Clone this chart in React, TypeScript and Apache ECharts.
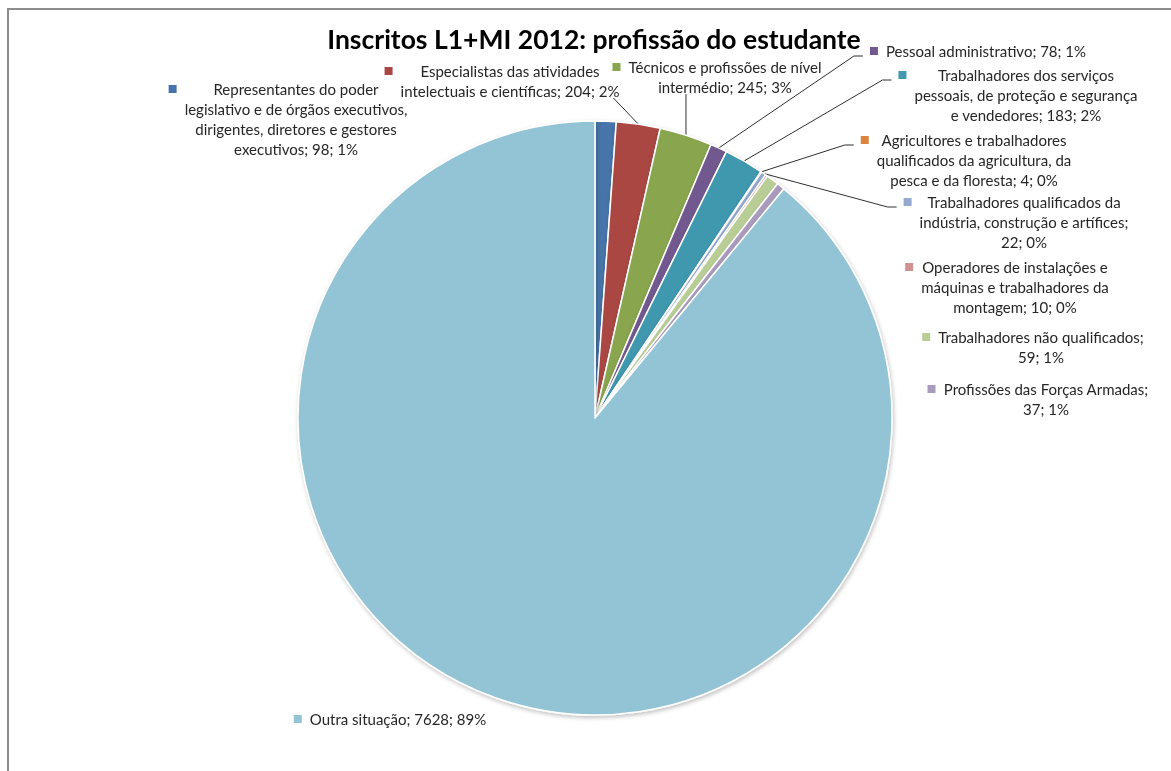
import React, { useEffect, useRef } from 'react';
import * as echarts from 'echarts';

const categories = [
  'Representantes do poder legislativo e de órgãos executivos, dirigentes, diretores e gestores executivos',
  'Especialistas das atividades intelectuais e científicas',
  'Técnicos e profissões de nível intermédio',
  'Pessoal administrativo',
  'Trabalhadores dos serviços pessoais, de proteção e segurança e vendedores',
  'Agricultores e trabalhadores qualificados da agricultura, da pesca e da floresta',
  'Trabalhadores qualificados da indústria, construção e artífices',
  'Operadores de instalações e máquinas e trabalhadores da montagem',
  'Trabalhadores não qualificados',
  'Profissões das Forças Armadas',
  'Outra situação',
];
const values = [98, 204, 245, 78, 183, 4, 22, 10, 59, 37, 7628];
const percentLabels = ['1%', '2%', '3%', '1%', '2%', '0%', '0%', '0%', '1%', '1%', '89%'];

// label text as wrapped in the picture (%v = value, %p = percent)
const labelLines: string[][] = [
  ['Representantes do poder', 'legislativo e de órgãos executivos,', 'dirigentes, diretores e gestores', 'executivos; %v; %p'],
  ['Especialistas das atividades', 'intelectuais e científicas; %v; %p'],
  ['Técnicos e profissões de nível', 'intermédio; %v; %p'],
  ['Pessoal administrativo; %v; %p'],
  ['Trabalhadores dos serviços', 'pessoais, de proteção e segurança', 'e vendedores; %v; %p'],
  ['Agricultores e trabalhadores', 'qualificados da agricultura, da', 'pesca e da floresta; %v; %p'],
  ['Trabalhadores qualificados da', 'indústria, construção e artífices;', '%v; %p'],
  ['Operadores de instalações e', 'máquinas e trabalhadores da', 'montagem; %v; %p'],
  ['Trabalhadores não qualificados;', '%v; %p'],
  ['Profissões das Forças Armadas;', '%v; %p'],
  ['Outra situação; %v; %p'],
];

const colors = [
  '#4674AA', '#AA4643', '#89A54E', '#71588F', '#4198AF', '#DB843D',
  '#93A9CF', '#D19392', '#B9CD96', '#A99BBD', '#93C4D6',
];

// layout (not data)
const hasLeader = [false, true, true, true, true, true, true, false, false, false, false];
const labelCenters: [number, number][] = [
  [288, 119], [502, 81], [717, 77], [978, 51], [1018, 95], [966, 160],
  [1016, 222], [1007, 287], [1033, 347], [1038, 399], [390, 719],
];

const FONT = 'Lato, "Liberation Sans", sans-serif';
const KEY = 8;
const GAP = 8;

export default function App() {
  const ref = useRef<HTMLDivElement>(null);
  useEffect(() => {
    const chart = echarts.init(ref.current!, null, { renderer: 'svg' });
    const rich: any = {
      t: { fontFamily: FONT, fontSize: 15, color: '#262626', lineHeight: 20, align: 'center' },
      g: { width: GAP, lineHeight: 20, align: 'left', fontSize: 8 },
      s: { width: KEY + GAP, lineHeight: 20, align: 'left', fontSize: 8 },
    };
    colors.forEach((c, i) => {
      rich['k' + i] = { width: KEY, height: KEY, backgroundColor: c, lineHeight: 20, align: 'left', fontSize: 8 };
    });

    const data = categories.map((name, i) => ({
      name,
      value: values[i],
      itemStyle: { color: colors[i] },
      labelLine: { show: hasLeader[i] },
    }));

    chart.setOption({
      animation: false,
      title: {
        text: 'Inscritos L1+MI 2012: profissão do estudante',
        left: 594,
        textAlign: 'center',
        top: 23,
        padding: 0,
        textStyle: { fontFamily: FONT, fontWeight: 'bold', fontSize: 26.5, color: '#000', lineHeight: 32 },
      },
      series: [
        {
          type: 'pie',
          left: 0,
          top: 0,
          width: 4000,
          height: 771,
          center: [595, 418],
          radius: 297,
          startAngle: 90,
          clockwise: true,
          avoidLabelOverlap: false,
          data,
          itemStyle: {
            borderColor: '#fff',
            borderWidth: 1.5,
            shadowBlur: 4,
            shadowOffsetX: 1,
            shadowOffsetY: 2,
            shadowColor: 'rgba(0,0,0,0.25)',
          },
          label: {
            show: true,
            position: 'outside',
            overflow: 'none',
            lineHeight: 20,
            fontFamily: FONT,
            fontSize: 15,
            rich,
            formatter: (p: any) => {
              const i = p.dataIndex;
              const lines = labelLines[i].map((l) =>
                l.replace('%v', String(values[i])).replace('%p', percentLabels[i])
              );
              return lines
                .map((l, j) => (j === 0 ? `{k${i}| }{g| }{t|${l}}` : `{s| }{t|${l}}`))
                .join('\n');
            },
          },
          labelLine: {
            show: true,
            length: 10,
            length2: 10,
            lineStyle: { color: '#303030', width: 1 },
          },
          labelLayout: (params: any) => {
            const i = params.dataIndex;
            const [x, y] = labelCenters[i];
            const w = params.labelRect.width;
            const h = params.labelRect.height;
            const res: any = { x, y, align: 'center', verticalAlign: 'middle' };
            if (hasLeader[i] && params.labelLinePoints) {
              const a = [params.labelLinePoints[0][0], params.labelLinePoints[0][1]];
              const left = x - w / 2;
              const right = x + w / 2;
              const top = y - h / 2;
              const bottom = y + h / 2;
              if (a[0] < left) {
                const ey = top + 15;
                res.labelLinePoints = [a, [left - 16, ey], [left - 7, ey]];
              } else {
                const ex = Math.min(Math.max(a[0], left + 6), right - 6);
                res.labelLinePoints = [a, [ex, bottom - 3]];
              }
            }
            return res;
          },
        },
      ],
    });
    return () => chart.dispose();
  }, []);

  return (
    <>
      <div
        ref={ref}
        style={{ position: 'fixed', left: 0, top: 0, width: 1171, height: 771 }}
      />
      <div
        style={{
          position: 'fixed',
          left: 7,
          top: 8,
          right: -20,
          bottom: -20,
          borderLeft: '2px solid #8c8c8c',
          borderTop: '2px solid #8c8c8c',
          pointerEvents: 'none',
        }}
      />
    </>
  );
}
